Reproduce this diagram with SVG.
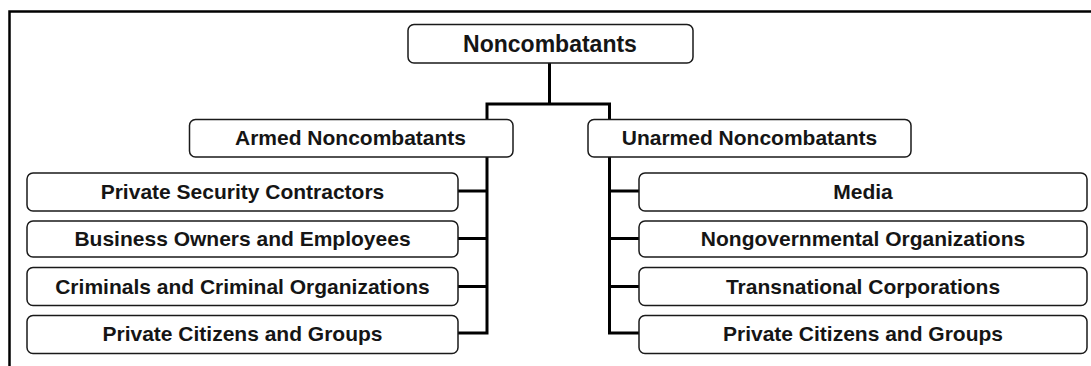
<svg xmlns="http://www.w3.org/2000/svg" width="1091" height="366" viewBox="0 0 1091 366">
<style>
.box{fill:#fff;stroke:#1a1a1a;stroke-width:1.5}
.t{font-family:"Liberation Sans",Arial,sans-serif;font-weight:bold;font-size:21px;fill:#151515;text-anchor:middle}
.title{font-size:23px}
.c{fill:none;stroke:#000;stroke-width:3;stroke-linejoin:miter}
</style>
<rect x="0" y="0" width="1091" height="366" fill="#fff"/>
<path d="M9.5,370 V11.5 H1100" fill="none" stroke="#000" stroke-width="2.5"/>
<g id="connectors">
<path class="c" d="M549.5,63 V104"/>
<path class="c" d="M487,120 V104 H609.5 V119"/>
<path class="c" d="M487,157 V333 H458"/>
<path class="c" d="M458,191 H487"/>
<path class="c" d="M458,238.5 H487"/>
<path class="c" d="M458,286.5 H487"/>
<path class="c" d="M609.5,157 V333 H639"/>
<path class="c" d="M609.5,191 H639"/>
<path class="c" d="M609.5,238.5 H639"/>
<path class="c" d="M609.5,286.5 H639"/>
</g>
<g id="n-root"><rect class="box" x="408" y="24.5" width="285" height="38.5" rx="6"/><text class="t title" x="550" y="51.5">Noncombatants</text></g>
<g id="n-armed"><rect class="box" x="189.5" y="119.5" width="323.5" height="37.5" rx="6"/><text class="t" x="350.5" y="144.5">Armed Noncombatants</text></g>
<g id="n-unarmed"><rect class="box" x="588" y="119.5" width="323" height="37.5" rx="6"/><text class="t" x="749.5" y="144.5">Unarmed Noncombatants</text></g>
<g id="n-a1"><rect class="box" x="27" y="173" width="431" height="38" rx="6"/><text class="t" x="242.5" y="198.5">Private Security Contractors</text></g>
<g id="n-a2"><rect class="box" x="27" y="221" width="431" height="36" rx="6"/><text class="t" x="242.5" y="246">Business Owners and Employees</text></g>
<g id="n-a3"><rect class="box" x="27" y="267.5" width="431" height="38" rx="6"/><text class="t" x="242.5" y="293.5">Criminals and Criminal Organizations</text></g>
<g id="n-a4"><rect class="box" x="27" y="315.5" width="431" height="38" rx="6"/><text class="t" x="242.5" y="341">Private Citizens and Groups</text></g>
<g id="n-u1"><rect class="box" x="639" y="173" width="448" height="38" rx="6"/><text class="t" x="863" y="198.5">Media</text></g>
<g id="n-u2"><rect class="box" x="639" y="221" width="448" height="36" rx="6"/><text class="t" x="863" y="246">Nongovernmental Organizations</text></g>
<g id="n-u3"><rect class="box" x="639" y="267.5" width="448" height="38" rx="6"/><text class="t" x="863" y="293.5">Transnational Corporations</text></g>
<g id="n-u4"><rect class="box" x="639" y="315.5" width="448" height="38" rx="6"/><text class="t" x="863" y="341">Private Citizens and Groups</text></g>
</svg>
